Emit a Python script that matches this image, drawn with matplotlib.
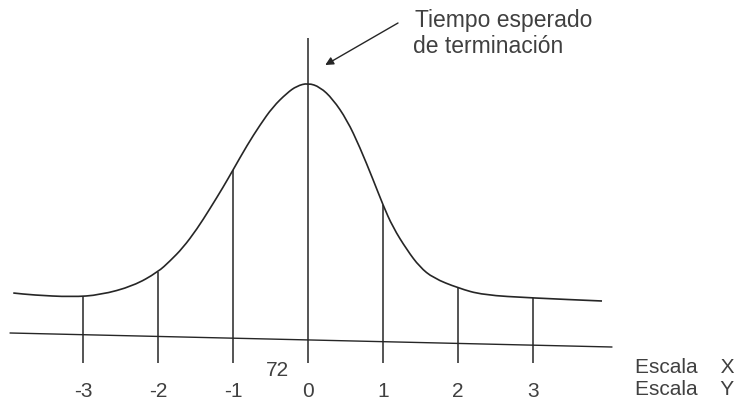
import numpy as np
import matplotlib.pyplot as plt
from matplotlib.path import Path
from matplotlib.patches import PathPatch

plt.rcParams['font.family'] = ['Liberation Sans', 'DejaVu Sans']

# curva dibujada (z = desviaciones estandar, h = altura)
curva_z = [-3.93, -3.67, -3.15, -2.77, -2.33, -2.0, -1.84, -1.67, -1.48, -1.31,
           -1.13, -1.0, -0.81, -0.64, -0.47, -0.28, -0.15, 0.0, 0.16, 0.33,
           0.52, 0.69, 0.87, 1.0, 1.13, 1.32, 1.49, 1.67, 2.0, 2.33,
           3.0, 3.92]
curva_h = [115, 113, 111, 113, 122, 136, 147, 160, 179, 199,
           221, 238, 263, 283, 301, 315, 322, 325, 321, 309,
           288, 261, 228, 203, 181, 158, 141, 130, 120, 113,
           110, 107]

# escala Y (desviaciones) y su linea base inclinada
escala_y = [-3, -2, -1, 0, 1, 2, 3]
etiquetas_y = ["-3", "-2", "-1", "0", "1", "2", "3"]
base_z = [-3.97, 4.05]
base_h = [75, 61]
fondo_h = 45       # donde terminan las lineas verticales
media_h = 370      # extremo superior de la linea de la media
valor_x = "72"     # media en la escala X

color = "#262626"
texto = "#404040"

fig = plt.figure(figsize=(7.36, 4.08), dpi=100)
ax = fig.add_axes([0, 0, 1, 1])
ax.set_xlim(-308 / 75, (736 - 308) / 75)
ax.set_ylim(0, 408)
ax.axis("off")

# curva normal: bezier cuadratica usando los puntos leidos como control
pts = np.column_stack([curva_z, curva_h])
medios = (pts[:-1] + pts[1:]) / 2
verts = [pts[0], medios[0]]
codes = [Path.MOVETO, Path.LINETO]
for i in range(1, len(pts) - 1):
    verts += [pts[i], medios[i]]
    codes += [Path.CURVE3, Path.CURVE3]
verts.append(pts[-1])
codes.append(Path.LINETO)
ax.add_patch(PathPatch(Path(verts, codes), fill=False, edgecolor=color,
                       lw=1.2, joinstyle="round"))

# linea base
ax.plot(base_z, base_h, color=color, lw=1.0)

# lineas verticales desde la curva hacia abajo
for z in escala_y:
    tope = media_h if z == 0 else np.interp(z, curva_z, curva_h)
    ax.vlines(z, fondo_h, tope, color=color, lw=1.1)

# etiquetas de la escala Y
for z, t in zip(escala_y, etiquetas_y):
    ax.text(z, 11, t, ha="center", va="baseline", fontsize=15, color=texto)

ax.text(-0.41, 32, valor_x, ha="center", va="baseline", fontsize=15, color=texto)

ax.text(4.36, 35, "Escala    X", ha="left", va="baseline", fontsize=15, color=texto)
ax.text(4.36, 13, "Escala    Y", ha="left", va="baseline", fontsize=15, color=texto)

# anotacion de la media
ax.text(1.43, 381, "Tiempo esperado", ha="left", va="baseline", fontsize=16.5, color=texto)
ax.text(1.40, 355, "de terminación", ha="left", va="baseline", fontsize=16.5, color=texto)
ax.annotate("", xy=(0.23, 343), xytext=(1.2, 385),
            arrowprops=dict(arrowstyle="-|>", color=color, lw=1.0,
                            mutation_scale=12, shrinkA=0, shrinkB=0))

fig.savefig("out.png", dpi=100, facecolor="white")
